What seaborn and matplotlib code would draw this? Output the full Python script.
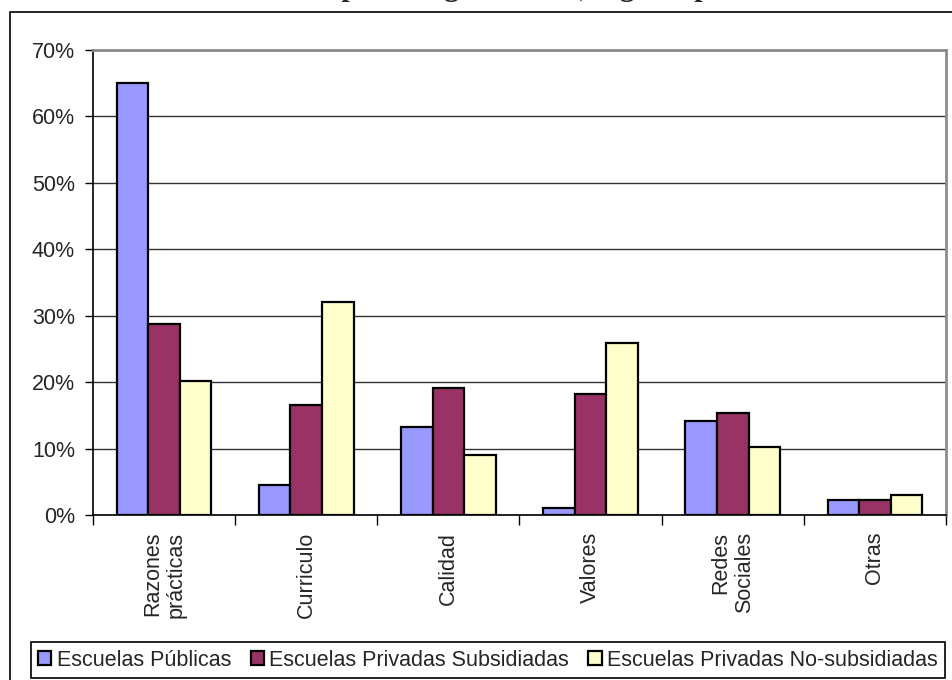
import matplotlib
matplotlib.use("Agg")
import matplotlib.pyplot as plt
import numpy as np
import pandas as pd
import seaborn as sns
from matplotlib.ticker import PercentFormatter, FixedLocator
from matplotlib.patches import Rectangle

# ---- data ----
categories = ["Razones\nprácticas", "Curriculo", "Calidad", "Valores", "Redes\nSociales", "Otras"]
series_names = ["Escuelas Públicas", "Escuelas Privadas Subsidiadas", "Escuelas Privadas No-subsidiadas"]
publicas = [65.1, 4.5, 13.3, 1.0, 14.2, 2.2]
subsidiadas = [28.8, 16.6, 19.1, 18.2, 15.4, 2.2]
no_subsidiadas = [20.1, 32.1, 9.0, 25.9, 10.3, 3.0]
y_ticks = [0, 10, 20, 30, 40, 50, 60, 70]
colors = ["#9999FF", "#993366", "#FFFFCC"]
title = "Razones para elegir escuela, según tipo"

sns.set_theme(style="white")
plt.rcParams["font.family"] = ["Liberation Sans", "DejaVu Sans"]

df = pd.DataFrame({
    "categoria": categories * 3,
    "serie": [series_names[0]] * 6 + [series_names[1]] * 6 + [series_names[2]] * 6,
    "valor": publicas + subsidiadas + no_subsidiadas,
})

W, H = 953, 680
fig = plt.figure(figsize=(W / 100, H / 100), dpi=100)
fig.patch.set_facecolor("white")
ax = fig.add_axes([93 / W, 1 - 515 / H, (946 - 93) / W, (515 - 50) / H])

sns.barplot(data=df, x="categoria", y="valor", hue="serie", order=categories,
            hue_order=series_names, palette=colors, saturation=1, width=0.667,
            gap=0, edgecolor="black", linewidth=1.6, ax=ax)

handles, labels = ax.get_legend_handles_labels()
if ax.get_legend() is not None:
    ax.get_legend().remove()

ax.set_xlim(-0.5, len(categories) - 0.5)
ax.set_ylim(0, 70)
ax.set_yticks(y_ticks)
ax.yaxis.set_major_formatter(PercentFormatter(100, decimals=0))
ax.set_xlabel("")
ax.set_ylabel("")

ax.set_axisbelow(True)
ax.yaxis.grid(True, color="#333333", linewidth=1)
ax.xaxis.grid(False)

for s in ["left", "bottom"]:
    ax.spines[s].set_color("black")
    ax.spines[s].set_linewidth(1.2)
for s in ["top", "right"]:
    ax.spines[s].set_color("#8c8c8c")
    ax.spines[s].set_linewidth(2)

ax.tick_params(axis="y", direction="out", length=6, width=1, color="black",
               labelsize=15.5, pad=7, left=True)
ax.xaxis.set_minor_locator(FixedLocator(np.arange(-0.5, len(categories), 1.0)))
ax.tick_params(axis="x", which="minor", direction="out", length=7, width=1,
               color="black", bottom=True)
ax.tick_params(axis="x", which="major", length=0, pad=12, labelsize=15.5)
ax.set_xticks(range(len(categories)))
ax.set_xticklabels(categories, rotation=90, ha="center", va="top",
                   multialignment="right", linespacing=1.15)

# outer chart border (right/bottom edges fall outside the image)
fig.patches.append(Rectangle((10 / W, -0.2), 1.2, (H - 12) / H + 0.2,
                             transform=fig.transFigure, fill=False,
                             edgecolor="black", linewidth=1.2))

leg = fig.legend(handles, labels, loc="center",
                 bbox_to_anchor=((26 + 950) / 2 / W, 1 - 660 / H), ncol=3,
                 fontsize=15.5, handlelength=0.62, handleheight=0.62,
                 handletextpad=0.25, columnspacing=0.9, borderpad=0.35,
                 fancybox=False, frameon=True, edgecolor="black", framealpha=1)
leg.get_frame().set_linewidth(1.2)

# title, mostly cut off above the image as in the reference
fig.text(227 / W, (H + 3.5) / H, title, ha="left", va="baseline",
         fontsize=21.7, fontweight="bold", family=["Liberation Serif", "DejaVu Serif"])

fig.savefig("out.png", dpi=100)
